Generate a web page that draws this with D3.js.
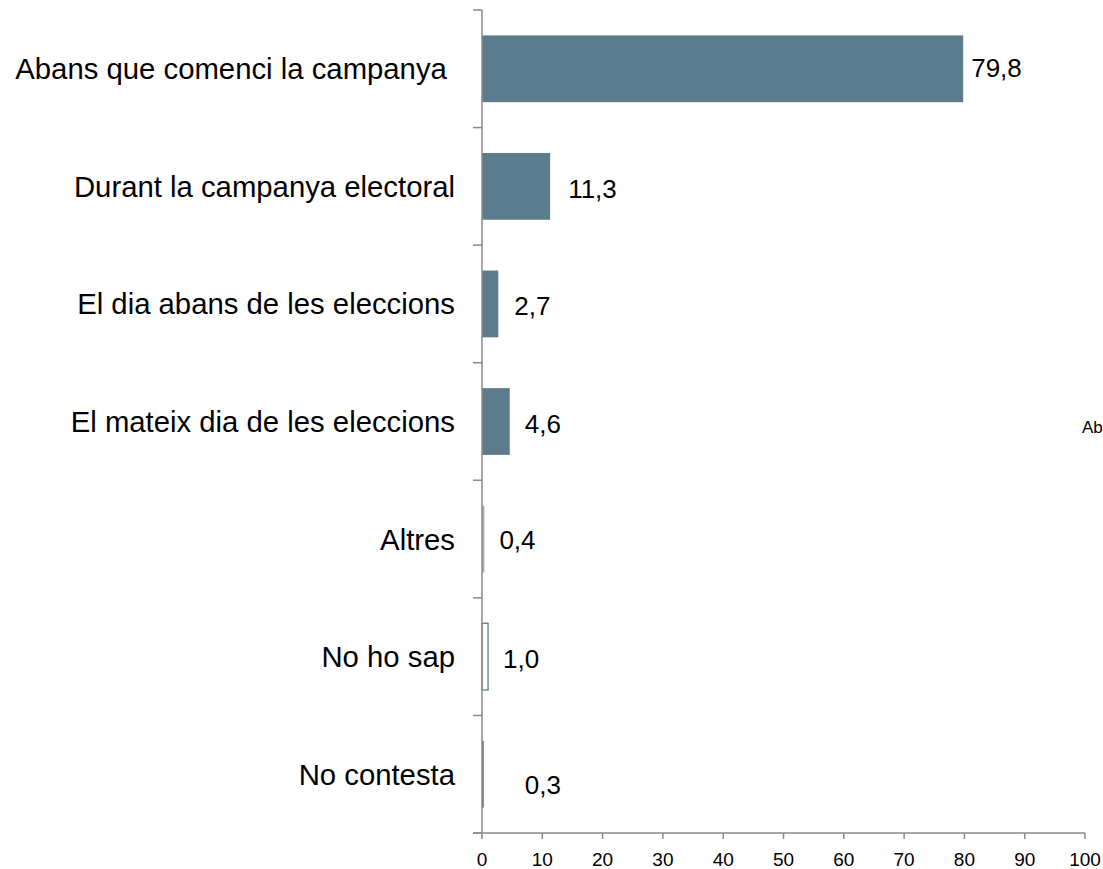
<!DOCTYPE html>
<html>
<head>
<meta charset="utf-8">
<script src="https://cdn.jsdelivr.net/npm/d3@7"></script>
<style>
  html, body { margin: 0; padding: 0; background: #fff; overflow: hidden; }
  svg { display: block; font-family: "Liberation Sans", Arial, sans-serif; }
</style>
</head>
<body>
<svg id="chart" width="1103" height="869"></svg>
<script>
// ---- data ----
const categories = [
  "Abans que comenci la campanya ",
  "Durant la campanya electoral",
  "El dia abans de les eleccions",
  "El mateix dia de les eleccions",
  "Altres",
  "No ho sap",
  "No contesta"
];
const values = [79.8, 11.3, 2.7, 4.6, 0.4, 1.0, 0.3];
const valueLabels = ["79,8", "11,3", "2,7", "4,6", "0,4", "1,0", "0,3"];
const xTicks = [0, 10, 20, 30, 40, 50, 60, 70, 80, 90, 100];
const strayText = "Ab";

// ---- layout ----
const svg = d3.select("#chart");
const axisColor = "#8a8a8a";
const barColor = "#5b7c8e";
const x0 = 482, x1 = 1085, yTop = 10, yBot = 833;

const x = d3.scaleLinear().domain([0, 100]).range([x0, x1]);
const y = d3.scaleBand().domain(categories).range([yTop, yBot])
  .paddingInner(0.432).paddingOuter(0.216);
const step = y.step();

// label nudges (layout only)
const labelDx = [8, 18, 16, 15, 15, 15, 41];
const labelDy = [0, 3, 3, 3, 1, 3, 11];

// bars
svg.append("g").selectAll("rect")
  .data(values)
  .join("rect")
  .attr("x", x(0))
  .attr("y", (d, i) => y(categories[i]))
  .attr("width", d => x(d) - x(0))
  .attr("height", y.bandwidth())
  .attr("fill", (d, i) => categories[i] === "No ho sap" ? "#ffffff" : (categories[i] === "Altres" ? "#9fb1bd" : barColor))
  .attr("stroke", (d, i) => categories[i] === "No ho sap" ? barColor : "none")
  .attr("stroke-width", 1.3);

// y axis line
svg.append("line")
  .attr("x1", x0).attr("x2", x0)
  .attr("y1", yTop).attr("y2", yBot)
  .attr("stroke", axisColor).attr("stroke-width", 1.5);

// category boundary ticks
const bounds = d3.range(categories.length + 1).map(i => yTop + i * step);
svg.append("g").selectAll("line")
  .data(bounds)
  .join("line")
  .attr("x1", x0 - 9).attr("x2", x0)
  .attr("y1", d => d).attr("y2", d => d)
  .attr("stroke", axisColor).attr("stroke-width", 1.5);

// x axis
svg.append("line")
  .attr("x1", x0 - 9).attr("x2", x1)
  .attr("y1", yBot).attr("y2", yBot)
  .attr("stroke", axisColor).attr("stroke-width", 1.5);

svg.append("g").selectAll("line")
  .data(xTicks)
  .join("line")
  .attr("x1", d => x(d)).attr("x2", d => x(d))
  .attr("y1", yBot).attr("y2", yBot + 6)
  .attr("stroke", axisColor).attr("stroke-width", 1.5);

svg.append("g").selectAll("text")
  .data(xTicks)
  .join("text")
  .attr("x", d => x(d))
  .attr("y", 866)
  .attr("text-anchor", "middle")
  .attr("font-size", 19)
  .attr("fill", "#000")
  .text(d => d);

// category labels
svg.append("g").selectAll("text")
  .data(categories)
  .join("text")
  .attr("x", 455)
  .attr("y", d => y(d) + y.bandwidth() / 2 + 10.5)
  .attr("text-anchor", "end")
  .attr("font-size", 29.3)
  .attr("fill", "#000")
  .style("white-space", "pre")
  .text(d => d);

// value labels
svg.append("g").selectAll("text")
  .data(values)
  .join("text")
  .attr("x", (d, i) => x(d) + labelDx[i])
  .attr("y", (d, i) => y(categories[i]) + y.bandwidth() / 2 + 8.5 + labelDy[i])
  .attr("font-size", 26)
  .attr("fill", "#000")
  .text((d, i) => valueLabels[i]);

// stray clipped text at right edge
svg.append("text")
  .attr("x", 1082).attr("y", 433)
  .attr("font-size", 17)
  .attr("fill", "#000")
  .text(strayText);
</script>
</body>
</html>
